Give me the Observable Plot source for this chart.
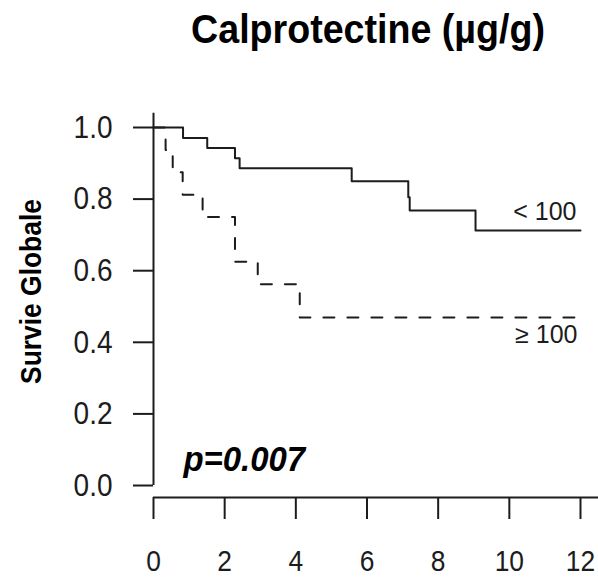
<!DOCTYPE html>
<html><head><meta charset="utf-8">
<script src="https://cdn.jsdelivr.net/npm/d3@7"></script>
<script src="https://cdn.jsdelivr.net/npm/@observablehq/plot@0.6"></script>
<style>
body{margin:0;background:#fff;}
#wrap{position:relative;width:598px;height:578px;overflow:hidden;}
#title{position:absolute;left:368px;top:1px;transform:translateX(-50%) scaleX(0.94);font:bold 40px "Liberation Sans",Arial,sans-serif;white-space:nowrap;line-height:56px;color:#000;}
#chart{position:absolute;left:0;top:90px;}
</style></head><body>
<div id="wrap"><div id="title">Calprotectine (µg/g)</div><div id="chart"></div></div>
<script>
// Data
const lowTimes = [0, 0.83, 1.51, 2.29, 2.42, 5.57, 7.16, 7.2, 9.05, 12];
const lowSurv  = [1, 0.971, 0.943, 0.914, 0.886, 0.85, 0.805, 0.768, 0.712, 0.712];
const highTimes = [0, 0.34, 0.54, 0.82, 1.38, 2.29, 2.93, 4.11, 12];
const highSurv  = [1, 0.9375, 0.875, 0.8125, 0.75, 0.625, 0.5625, 0.469, 0.469];
const groupLabels = ["< 100", "≥ 100"];
const xTicks = [0, 2, 4, 6, 8, 10, 12];
const yTicks = [0, 0.2, 0.4, 0.6, 0.8, 1.0];
const pText = "p=0.007";
const yTitle = "Survie Globale";

const low = lowTimes.map((t, i) => ({t, s: lowSurv[i]}));
const high = highTimes.map((t, i) => ({t, s: highSurv[i]}));
const ends = [
  {t: lowTimes.at(-1), s: lowSurv.at(-1), label: groupLabels[0]},
  {t: highTimes.at(-1), s: highSurv.at(-1), label: groupLabels[1]}
];

const axisFloor = -0.0335;
const ink = "#1c1c1c";
const font = "'Liberation Sans', Arial, sans-serif";

const chart = Plot.plot({
  width: 598,
  height: 488,
  marginLeft: 153,
  marginRight: 18,
  marginTop: 37,
  marginBottom: 81,
  style: {fontFamily: font, color: ink, background: "white", overflow: "visible"},
  x: {domain: [0, 12]},
  y: {domain: [axisFloor, 1]},
  marks: [
    Plot.ruleX([0], {y1: 0, y2: 1.04, stroke: ink, strokeWidth: 2}),
    Plot.ruleY([axisFloor], {x1: 0, x2: 12.6, stroke: ink, strokeWidth: 2}),
    Plot.axisY({ticks: yTicks, tickFormat: d3.format(".1f"), tickSize: 20, tickPadding: 21, fontSize: 32, label: null, stroke: ink, strokeWidth: 2}),
    Plot.axisX({ticks: xTicks, tickFormat: d3.format("d"), tickSize: 22, tickPadding: 30, fontSize: 30, label: null, stroke: ink, strokeWidth: 2}),
    Plot.line(low, {x: "t", y: "s", curve: "step-after", stroke: ink, strokeWidth: 2}),
    Plot.line(high, {x: "t", y: "s", curve: "step-after", stroke: ink, strokeWidth: 2, strokeDasharray: "11,13"}),
    Plot.text(ends.slice(0, 1), {x: "t", y: "s", text: "label", textAnchor: "end", dx: -4, dy: -19, fontSize: 25, fill: ink}),
    Plot.text(ends.slice(1), {x: "t", y: "s", text: "label", textAnchor: "end", dx: -3, dy: 17, fontSize: 25, fill: ink}),
    Plot.text([yTitle], {frameAnchor: "left", textAnchor: "middle", rotate: -90, dx: -122, dy: -21, fontSize: 30, fontWeight: "bold", fill: "#000"}),
    Plot.text([pText], {frameAnchor: "bottom-left", textAnchor: "start", dx: 30, dy: -27, fontSize: 35, fontWeight: "bold", fontStyle: "italic", fill: "#000"})
  ]
});
document.getElementById("chart").appendChild(chart);

// Condense some texts horizontally (the reference uses narrow, tall glyphs)
function squeeze(nodes, sx) {
  nodes.forEach(el => {
    const w = el.getComputedTextLength();
    if (w > 0) {
      el.setAttribute("textLength", (w * sx).toFixed(2));
      el.setAttribute("lengthAdjust", "spacingAndGlyphs");
    }
  });
}
const texts = Array.from(chart.querySelectorAll("text"));
const yTickStrings = yTicks.map(d3.format(".1f"));
const xTickStrings = xTicks.map(String);
squeeze(texts.filter(t => yTickStrings.includes(t.textContent)), 0.875);
squeeze(texts.filter(t => xTickStrings.includes(t.textContent)), 0.88);
squeeze(texts.filter(t => t.textContent === yTitle), 0.88);
squeeze(texts.filter(t => t.textContent === pText), 0.94);
</script>
</body></html>
